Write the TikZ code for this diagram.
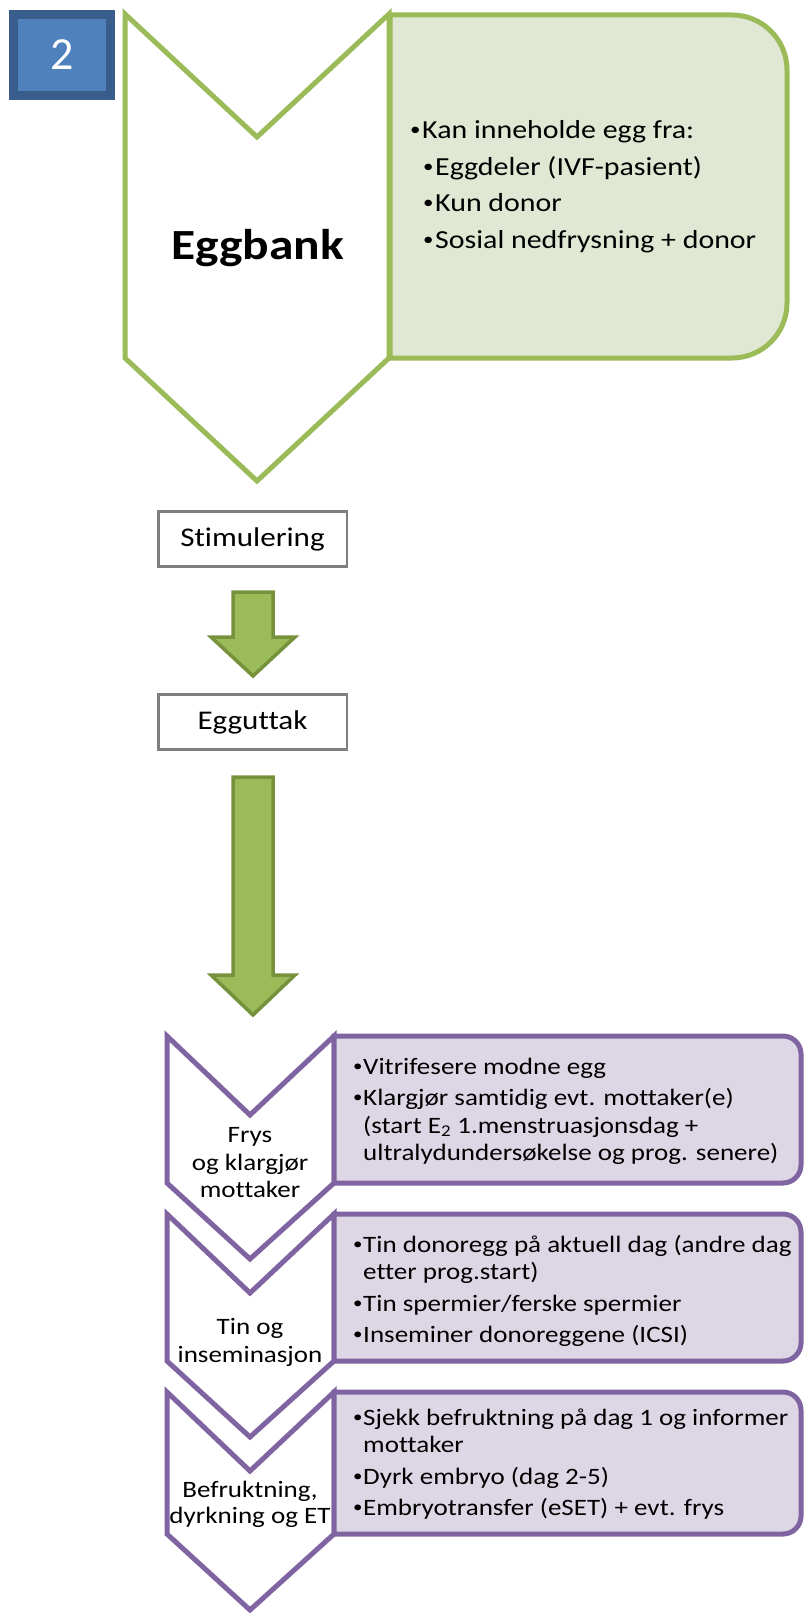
\documentclass[tikz,border=0pt]{standalone}
\usepackage{fontspec}
\setmainfont{Carlito}[FakeStretch=1.15, Ligatures=NoCommon]
\newfontfamily\digitfont{Carlito}

\definecolor{leaf}{HTML}{9BBB59}
\definecolor{leafdark}{HTML}{76923C}
\definecolor{leaflight}{HTML}{E0E8D3}
\definecolor{plum}{HTML}{8064A2}
\definecolor{plumlight}{HTML}{DDD7E5}
\definecolor{navy}{HTML}{385D8A}
\definecolor{steel}{HTML}{4F81BD}
\definecolor{frame}{HTML}{7F7F7F}

% small list bullet in a box of given width
\newcommand{\lbul}[1]{\makebox[#1][l]{\raisebox{0.12em}{\scalebox{0.7}{•}}}}

\begin{document}
\begin{tikzpicture}[x=1pt,y=-1pt,
  greenshape/.style={draw=leaf, line width=5pt, line join=miter},
  plumshape/.style={draw=plum, line width=5pt, line join=miter},
  blockarrow/.style={draw=leafdark, fill=leaf, line width=3.5pt, line join=miter},
  stepbox/.style={draw=frame, fill=white, line width=2.5pt, minimum width=188.5pt,
    minimum height=55pt, inner sep=0pt, font=\fontsize{27}{32}\selectfont},
  gtext/.style={anchor=base west, inner sep=0pt, font=\fontsize{26}{31}\selectfont},
  ptext/.style={anchor=base west, inner sep=0pt, font=\fontsize{23.5}{28}\selectfont},
  ctext/.style={anchor=base, inner sep=0pt, font=\fontsize{23.5}{28}\selectfont}]

\useasboundingbox (0,0) rectangle (806,1613);
\fill[white] (0,0) rectangle (806,1613);

% step number
\node[draw=navy, fill=steel, line width=9pt, minimum width=97pt, minimum height=81pt,
  inner sep=0pt, text=white, font=\digitfont\fontsize{46}{50}\selectfont] (num) at (62,55) {2};

% egg bank chevron and its note
\draw[greenshape, fill=white] (125,14) -- (257,137) -- (389,14) -- (389,358) -- (257,481) -- (125,358) -- cycle;
\draw[greenshape, fill=leaflight] (390,15) -- (732,15) .. controls (762.4,15) and (787,39.6) .. (787,70)
  -- (787,303) .. controls (787,333.4) and (762.4,358) .. (732,358) -- (390,358) -- cycle;
\node[anchor=base, inner sep=0pt, font=\bfseries\fontsize{43}{50}\selectfont] (bank) at (257.5,260) {Eggbank};

\node[gtext] (g1) at (410,139) {\lbul{12pt}Kan inneholde egg fra:};
\node[gtext] (g2) at (423,175.5) {\lbul{12pt}Eggdeler (IVF-pasient)};
\node[gtext] (g3) at (423,212) {\lbul{12pt}Kun donor};
\node[gtext] (g4) at (423,249) {\lbul{12pt}Sosial nedfrysning + donor};

% stimulation and retrieval
\node[stepbox] (stim) at (252.5,539) {Stimulering};
\node[stepbox] (uttak) at (252.5,722) {Egguttak};

\draw[blockarrow] (233,592) -- (273,592) -- (273,637) -- (295,637) -- (253,676) -- (211,637) -- (233,637) -- cycle;
\draw[blockarrow] (233,777) -- (273,777) -- (273,975) -- (295,975) -- (253,1015) -- (211,975) -- (233,975) -- cycle;

% lab steps: chevrons with rounded note boxes
\foreach \t/\b in {1036/1183, 1214/1361, 1392/1534} {
  \draw[plumshape, fill=white] (167,\t) -- (250,\t+79) -- (334,\t) -- (334,\b) -- (250,\b+76) -- (167,\b) -- cycle;
  \draw[plumshape, fill=plumlight] (334,\t) -- (783,\t) .. controls (792.9,\t) and (801,\t+8.1) .. (801,\t+18)
    -- (801,\b-18) .. controls (801,\b-8.1) and (792.9,\b) .. (783,\b) -- (334,\b) -- cycle;
}

\node[ctext] (c1a) at (250,1142) {Frys};
\node[ctext] (c1b) at (250,1170) {og klargjør};
\node[ctext] (c1c) at (250,1197) {mottaker};
\node[ctext] (c2a) at (250,1334) {Tin og};
\node[ctext] (c2b) at (250,1362) {inseminasjon};
\node[ctext] (c3a) at (250,1497) {Befruktning,};
\node[ctext] (c3b) at (250,1523) {dyrkning og ET};

\node[ptext] (p1a) at (353,1074) {\lbul{10pt}Vitrifesere modne egg};
\node[ptext] (p1b) at (353,1105.5) {\lbul{10pt}Klargjør samtidig evt. mottaker(e)};
\node[ptext] (p1c) at (363,1133) {(start E\textsubscript{2} 1.menstruasjonsdag +};
\node[ptext] (p1d) at (363,1160.5) {ultralydundersøkelse  og prog. senere)};

\node[ptext] (p2a) at (353,1252) {\lbul{10pt}Tin donoregg på aktuell dag (andre dag};
\node[ptext] (p2b) at (363,1279.5) {etter prog.start)};
\node[ptext] (p2c) at (353,1311) {\lbul{10pt}Tin spermier/ferske spermier};
\node[ptext] (p2d) at (353,1342.5) {\lbul{10pt}Inseminer donoreggene (ICSI)};

\node[ptext] (p3a) at (353,1425) {\lbul{10pt}Sjekk befruktning på dag 1 og informer};
\node[ptext] (p3b) at (363,1452.5) {mottaker};
\node[ptext] (p3c) at (353,1484) {\lbul{10pt}Dyrk embryo (dag 2-5)};
\node[ptext] (p3d) at (353,1515.5) {\lbul{10pt}Embryotransfer (eSET) + evt. frys};

\end{tikzpicture}
\end{document}
